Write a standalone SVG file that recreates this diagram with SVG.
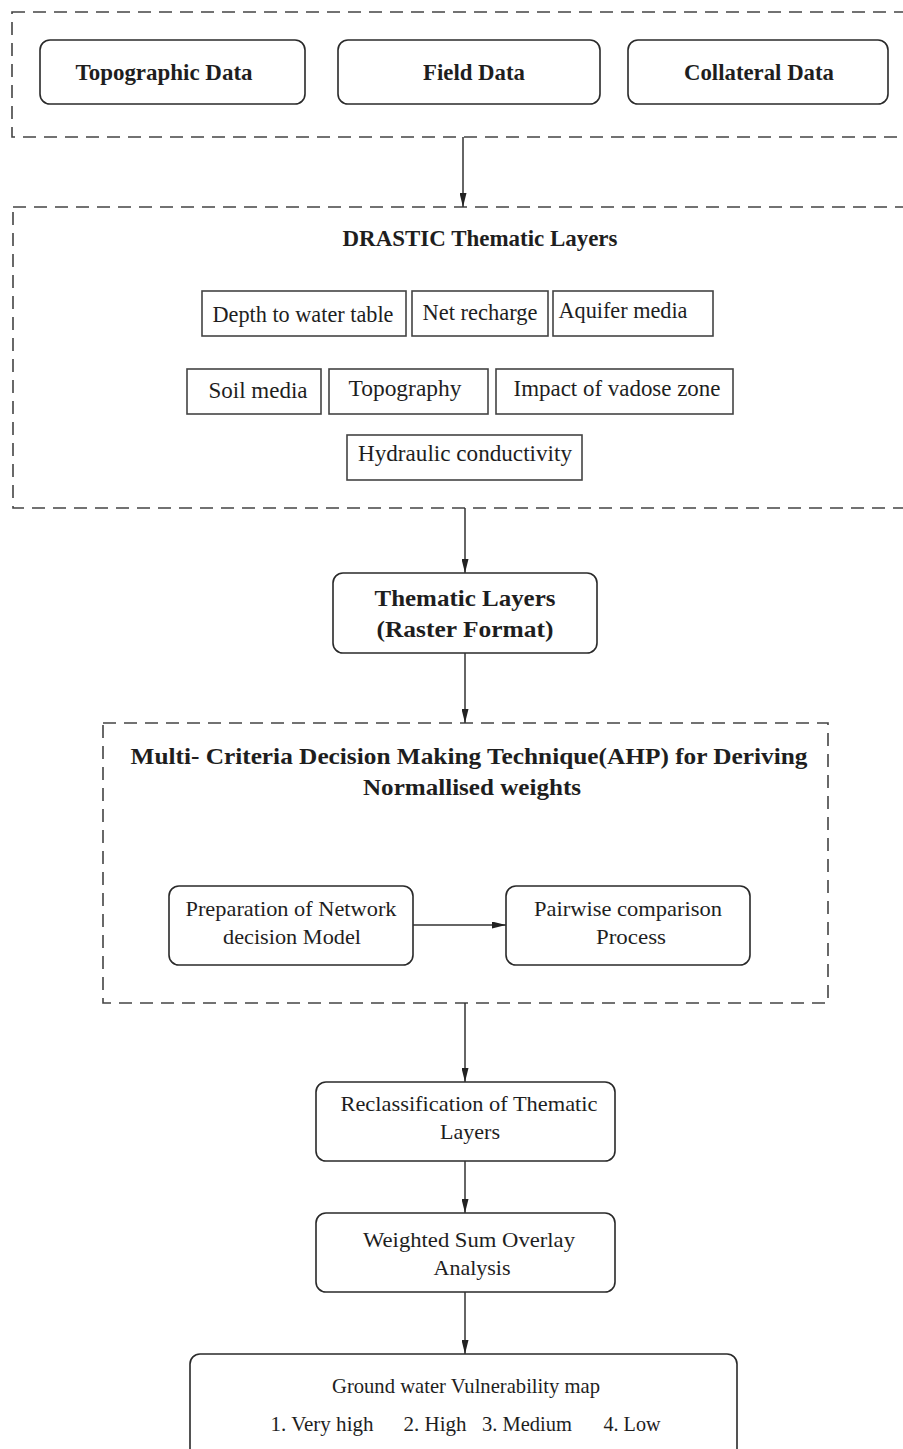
<svg xmlns="http://www.w3.org/2000/svg" width="903" height="1449" viewBox="0 0 903 1449">
<style>
.dash{fill:none;stroke:#444;stroke-width:1.6;stroke-dasharray:13 8}
.rbox{fill:#fff;stroke:#2a2a2a;stroke-width:1.6}
.sbox{fill:#fff;stroke:#444;stroke-width:1.6}
.conn{stroke:#333;stroke-width:1.5;fill:none;marker-end:url(#ah)}
text{font-family:"Liberation Serif","Times New Roman",serif;fill:#1e1e1e;text-anchor:middle}
.b{font-weight:bold;font-size:24px}
.r{font-size:23px}
.s{font-size:22px}
.g{font-size:21px}
</style>
<defs>
<marker id="ah" viewBox="0 0 14 7" refX="14" refY="3.5" markerWidth="14" markerHeight="7" markerUnits="userSpaceOnUse" orient="auto"><path d="M0,0 L14,3.5 L0,7 z" fill="#222"/></marker>
</defs>

<g id="data-group">
<rect class="dash" x="12" y="12" width="905" height="125"/>
</g>
<g id="topographic-data"><rect class="rbox" x="40" y="40" width="265" height="64" rx="10"/><text class="b" x="164" y="80" textLength="177" lengthAdjust="spacingAndGlyphs">Topographic Data</text></g>
<g id="field-data"><rect class="rbox" x="338" y="40" width="262" height="64" rx="10"/><text class="b" x="474" y="80" textLength="102" lengthAdjust="spacingAndGlyphs">Field Data</text></g>
<g id="collateral-data"><rect class="rbox" x="628" y="40" width="260" height="64" rx="10"/><text class="b" x="759" y="80" textLength="150" lengthAdjust="spacingAndGlyphs">Collateral Data</text></g>

<g id="drastic-group">
<rect class="dash" x="13" y="207" width="905" height="301"/>
<text class="b" x="480" y="246" textLength="275" lengthAdjust="spacingAndGlyphs">DRASTIC Thematic Layers</text>
</g>
<g id="depth"><rect class="sbox" x="202" y="291" width="204" height="45"/><text class="r" x="303" y="322" textLength="181" lengthAdjust="spacingAndGlyphs">Depth to water table</text></g>
<g id="net-recharge"><rect class="sbox" x="412" y="291" width="136" height="45"/><text class="r" x="480" y="320" textLength="115" lengthAdjust="spacingAndGlyphs">Net recharge</text></g>
<g id="aquifer-media"><rect class="sbox" x="553" y="291" width="160" height="45"/><text class="r" x="623" y="318" textLength="129" lengthAdjust="spacingAndGlyphs">Aquifer media</text></g>
<g id="soil-media"><rect class="sbox" x="187" y="369" width="134" height="45"/><text class="r" x="258" y="398" textLength="99" lengthAdjust="spacingAndGlyphs">Soil media</text></g>
<g id="topography"><rect class="sbox" x="329" y="369" width="159" height="45"/><text class="r" x="405" y="396" textLength="113" lengthAdjust="spacingAndGlyphs">Topography</text></g>
<g id="vadose"><rect class="sbox" x="496" y="369" width="237" height="45"/><text class="r" x="617" y="396" textLength="207" lengthAdjust="spacingAndGlyphs">Impact of vadose zone</text></g>
<g id="hydraulic"><rect class="sbox" x="347" y="435" width="235" height="45"/><text class="r" x="465" y="461" textLength="214" lengthAdjust="spacingAndGlyphs">Hydraulic conductivity</text></g>

<g id="thematic-raster"><rect class="rbox" x="333" y="573" width="264" height="80" rx="10"/>
<text class="b" x="465" y="606" textLength="181" lengthAdjust="spacingAndGlyphs">Thematic Layers</text>
<text class="b" x="465" y="637" textLength="177" lengthAdjust="spacingAndGlyphs">(Raster Format)</text></g>

<g id="ahp-group">
<rect class="dash" x="103" y="723" width="725" height="280"/>
<text class="b" x="469" y="764" textLength="677" lengthAdjust="spacingAndGlyphs">Multi- Criteria Decision Making Technique(AHP) for Deriving</text>
<text class="b" x="472" y="795" textLength="218" lengthAdjust="spacingAndGlyphs">Normallised weights</text>
</g>
<g id="preparation"><rect class="rbox" x="169" y="886" width="244" height="79" rx="10"/>
<text class="s" x="291" y="916" textLength="211" lengthAdjust="spacingAndGlyphs">Preparation of Network</text>
<text class="s" x="292" y="944" textLength="138" lengthAdjust="spacingAndGlyphs">decision Model</text></g>
<g id="pairwise"><rect class="rbox" x="506" y="886" width="244" height="79" rx="10"/>
<text class="s" x="628" y="916" textLength="188" lengthAdjust="spacingAndGlyphs">Pairwise comparison</text>
<text class="s" x="631" y="944" textLength="70" lengthAdjust="spacingAndGlyphs">Process</text></g>

<g id="reclassification"><rect class="rbox" x="316" y="1082" width="299" height="79" rx="10"/>
<text class="s" x="469" y="1111" textLength="257" lengthAdjust="spacingAndGlyphs">Reclassification of Thematic</text>
<text class="s" x="470" y="1139" textLength="60" lengthAdjust="spacingAndGlyphs">Layers</text></g>
<g id="weighted-sum"><rect class="rbox" x="316" y="1213" width="299" height="79" rx="10"/>
<text class="s" x="469" y="1247" textLength="212" lengthAdjust="spacingAndGlyphs">Weighted Sum Overlay</text>
<text class="s" x="472" y="1275" textLength="77" lengthAdjust="spacingAndGlyphs">Analysis</text></g>
<g id="vulnerability-map"><rect class="rbox" x="190" y="1354" width="547" height="110" rx="10"/>
<text class="g" x="466" y="1393" textLength="268" lengthAdjust="spacingAndGlyphs">Ground water Vulnerability map</text>
<text class="g" x="322" y="1431" textLength="103" lengthAdjust="spacingAndGlyphs">1. Very high</text>
<text class="g" x="435" y="1431" textLength="63" lengthAdjust="spacingAndGlyphs">2. High</text>
<text class="g" x="527" y="1431" textLength="90" lengthAdjust="spacingAndGlyphs">3. Medium</text>
<text class="g" x="632" y="1431" textLength="57" lengthAdjust="spacingAndGlyphs">4. Low</text></g>

<g id="connectors">
<line class="conn" x1="463" y1="137" x2="463" y2="207"/>
<line class="conn" x1="465" y1="508" x2="465" y2="573"/>
<line class="conn" x1="465" y1="653" x2="465" y2="723"/>
<line class="conn" x1="413" y1="925" x2="506" y2="925"/>
<line class="conn" x1="465" y1="1003" x2="465" y2="1082"/>
<line class="conn" x1="465" y1="1161" x2="465" y2="1213"/>
<line class="conn" x1="465" y1="1292" x2="465" y2="1354"/>
</g>
</svg>
